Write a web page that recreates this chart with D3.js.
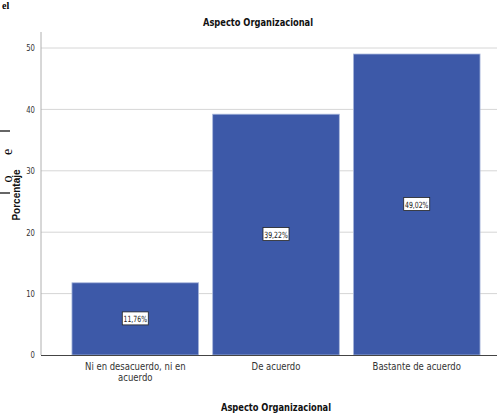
<!DOCTYPE html>
<html><head><meta charset="utf-8">
<script src="https://cdn.jsdelivr.net/npm/d3@7"></script>
<style>
body{margin:0;background:#fff;}
svg{display:block;}
.cond{font-family:"DejaVu Sans Condensed","DejaVu Sans",sans-serif;font-stretch:condensed;}
</style></head>
<body>
<script>
const categories = ["Ni en desacuerdo, ni en acuerdo", "De acuerdo", "Bastante de acuerdo"];
const categoryLines = [["Ni en desacuerdo, ni en", "acuerdo"], ["De acuerdo"], ["Bastante de acuerdo"]];
const values = [11.76, 39.22, 49.02];
const valueLabels = ["11,76%", "39,22%", "49,02%"];
const yTicks = [0, 10, 20, 30, 40, 50];
const title = "Aspecto Organizacional";
const xTitle = "Aspecto Organizacional";
const yTitle = "Porcentaje";

const W = 497, H = 416;
const svg = d3.select("body").append("svg").attr("width", W).attr("height", H);

const y = d3.scaleLinear().domain([0, 50]).range([355, 48]);
const x = d3.scaleBand().domain(categories).range([41, 511]).paddingInner(0.1).paddingOuter(0.22);

// gridlines
svg.append("g").selectAll("line").data(yTicks.filter(d => d > 0)).join("line")
  .attr("x1", 41).attr("x2", W).attr("y1", d => y(d)).attr("y2", d => y(d))
  .attr("stroke", "#d6d6d6").attr("stroke-width", 1);

// bars
svg.append("g").selectAll("rect").data(values).join("rect")
  .attr("x", (d, i) => x(categories[i]))
  .attr("width", x.bandwidth())
  .attr("y", d => y(d))
  .attr("height", d => y(0) - y(d))
  .attr("fill", "#3d59a8")
  .attr("stroke", "#a9b8dc").attr("stroke-width", 0.8);

// value labels
const lab = svg.append("g").selectAll("g").data(values).join("g")
  .attr("transform", (d, i) => `translate(${x(categories[i]) + x.bandwidth() / 2},${(y(d) + y(0)) / 2})`);
lab.append("rect").attr("x", -13).attr("y", -7).attr("width", 26).attr("height", 13)
  .attr("fill", "#fff").attr("stroke", "#222").attr("stroke-width", 0.8);
lab.append("text").text((d, i) => valueLabels[i]).attr("text-anchor", "middle").attr("dy", "0.35em")
  .attr("font-size", 8.6).attr("fill", "#222").attr("class", "cond")
  .attr("transform", "scale(0.8,1)");

// y axis
const yAxis = d3.axisLeft(y).tickValues(yTicks).tickSize(0).tickPadding(0);
const gy = svg.append("g").attr("transform", "translate(41,0)").call(yAxis);
gy.select(".domain").remove();
gy.selectAll("text").attr("font-size", 9).attr("fill", "#333").attr("class", "cond")
  .attr("transform", "scale(0.85,1)").attr("x", -6 / 0.85);
svg.append("line").attr("x1", 41).attr("x2", 41).attr("y1", 32).attr("y2", 355)
  .attr("stroke", "#b0b0b0").attr("stroke-width", 1);

// x axis
const xAxis = d3.axisBottom(x).tickSize(0).tickFormat("");
const gx = svg.append("g").attr("transform", "translate(0,355)").call(xAxis);
gx.select(".domain").remove();
svg.append("line").attr("x1", 41).attr("x2", W).attr("y1", 355.5).attr("y2", 355.5)
  .attr("stroke", "#444").attr("stroke-width", 1);
gx.selectAll(".tick").each(function(d, i) {
  const t = d3.select(this).append("text").attr("text-anchor", "middle")
    .attr("font-size", 10.5).attr("fill", "#333").attr("class", "cond")
    .attr("transform", "scale(0.9,1)");
  categoryLines[i].forEach((ln, j) => t.append("tspan").attr("x", 0).attr("y", 15 + j * 11).text(ln));
});

// titles
svg.append("text").text(title).attr("text-anchor", "middle")
  .attr("font-size", 10.5).attr("font-weight", "bold").attr("fill", "#111").attr("class", "cond")
  .attr("transform", "translate(258,26) scale(0.88,1)");
svg.append("text").text(xTitle).attr("text-anchor", "middle")
  .attr("font-size", 10.5).attr("font-weight", "bold").attr("fill", "#111").attr("class", "cond")
  .attr("transform", "translate(276,411) scale(0.88,1)");
svg.append("text").text(yTitle).attr("transform", "translate(20,195) rotate(-90)")
  .attr("text-anchor", "middle").attr("font-size", 10).attr("font-weight", "bold").attr("fill", "#111")
  .style("font-family", '"Liberation Sans",Arial,sans-serif');

// document fragments at the edges of the crop
svg.append("text").text("el").attr("x", 2).attr("y", 9).attr("font-size", 10).attr("font-weight", "bold")
  .style("font-family", '"Liberation Serif",serif');
svg.append("line").attr("x1", 0).attr("x2", 10).attr("y1", 131).attr("y2", 131).attr("stroke", "#000").attr("stroke-width", 1.2);
svg.append("line").attr("x1", 0).attr("x2", 10).attr("y1", 193).attr("y2", 193).attr("stroke", "#000").attr("stroke-width", 1.2);
svg.append("text").text("e").attr("transform", "translate(12,152) rotate(-90)").attr("font-size", 14)
  .attr("text-anchor", "middle").style("font-family", '"Liberation Serif",serif');
svg.append("text").text("o").attr("transform", "translate(12,179) rotate(-90)").attr("font-size", 14)
  .attr("text-anchor", "middle").style("font-family", '"Liberation Serif",serif');
</script>
</body></html>
